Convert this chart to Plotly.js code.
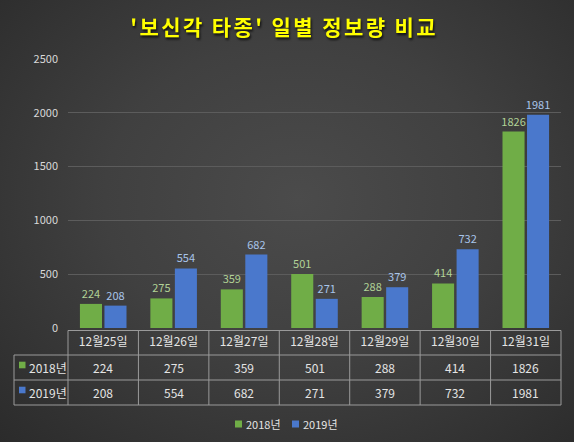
<!DOCTYPE html>
<html>
<head>
<meta charset="utf-8">
<script src="https://cdn.plot.ly/plotly-3.0.1.min.js"></script>
<style>
  html, body { margin: 0; padding: 0; }
  #chart {
    width: 574px; height: 442px;
    background: radial-gradient(ellipse 75% 80% at 52% 45%, #4b4b4b 0%, #404040 45%, #2a2a2a 100%);
  }
  .gtitle { filter: drop-shadow(1px 2px 1px rgba(0,0,0,0.75)); letter-spacing: 2.4px; }
</style>
</head>
<body>
<div id="chart"></div>
<script>
// ---- data ----
const categories = ['12월25일', '12월26일', '12월27일', '12월28일', '12월29일', '12월30일', '12월31일'];
const seriesNames = ['2018년', '2019년'];
const values2018 = [224, 275, 359, 501, 288, 414, 1826];
const values2019 = [208, 554, 682, 271, 379, 732, 1981];
const yTicks = [0, 500, 1000, 1500, 2000, 2500];
const titleText = "'보신각 타종' 일별 정보량 비교";

// ---- styling ----
const FONT = '"Noto Sans CJK KR", "Noto Sans", sans-serif';
const GREEN = '#70ad47';
const BLUE = '#4a78cc';
const GREEN_LABEL = '#b1d296';
const BLUE_LABEL = '#a9c5ea';
const LINE = '#9a9a9a';
const TEXT = '#e4e4e4';

const W = 574, H = 442;
const M = {l: 68, r: 13, t: 59, b: 114};
const plotH = H - M.t - M.b;      // 269
const plotW = W - M.l - M.r;      // 493
const py = p => (H - M.b - p) / plotH;   // pixel y -> paper y
const px = p => (p - M.l) / plotW;       // pixel x -> paper x

const traces = [
  {
    type: 'bar', name: seriesNames[0], x: categories, y: values2018,
    marker: {color: GREEN},
    texttemplate: '%{y}', textposition: 'outside', cliponaxis: false,
    constraintext: 'none',
    textfont: {family: FONT, size: 11, color: GREEN_LABEL},
    hoverinfo: 'x+y'
  },
  {
    type: 'bar', name: seriesNames[1], x: categories, y: values2019,
    marker: {color: BLUE},
    texttemplate: '%{y}', textposition: 'outside', cliponaxis: false,
    constraintext: 'none',
    textfont: {family: FONT, size: 11, color: BLUE_LABEL},
    hoverinfo: 'x+y'
  }
];

// table geometry (pixel rows)
const rowTop = 330.5, row1 = 355, row2 = 380, row3 = 405;
const leftEdge = 14;

const shapes = [];
const lineStyle = {color: LINE, width: 1};
// horizontal lines
shapes.push({type: 'line', xref: 'paper', yref: 'paper', x0: 0, x1: 1, y0: py(rowTop), y1: py(rowTop), line: lineStyle});
[row1, row2, row3].forEach(r => {
  shapes.push({type: 'line', xref: 'paper', yref: 'paper', x0: px(leftEdge), x1: 1, y0: py(r), y1: py(r), line: lineStyle});
});
// vertical lines
shapes.push({type: 'line', xref: 'paper', yref: 'paper', x0: px(leftEdge), x1: px(leftEdge), y0: py(row1), y1: py(row3), line: lineStyle});
shapes.push({type: 'line', xref: 'paper', yref: 'paper', x0: 0, x1: 0, y0: py(rowTop), y1: py(row3), line: lineStyle});
for (let i = 1; i < categories.length; i++) {
  shapes.push({type: 'line', xref: 'x', yref: 'paper', x0: i - 0.5, x1: i - 0.5, y0: py(rowTop), y1: py(row3), line: lineStyle});
}
shapes.push({type: 'line', xref: 'paper', yref: 'paper', x0: 1, x1: 1, y0: py(rowTop), y1: py(row3), line: lineStyle});

// legend keys inside table
const keyColors = [GREEN, BLUE];
const rowCenters = [(row1 + row2) / 2, (row2 + row3) / 2];
keyColors.forEach((c, k) => {
  const cy = rowCenters[k] - 2.5;
  shapes.push({type: 'rect', xref: 'paper', yref: 'paper',
    x0: px(19), x1: px(25.5), y0: py(cy - 3.3), y1: py(cy + 3.3),
    fillcolor: c, line: {width: 0}});
});

// bottom legend keys
const legendY = 424;
const legendItems = [{c: GREEN, x: 235, tx: 244}, {c: BLUE, x: 292, tx: 301}];
legendItems.forEach(it => {
  shapes.push({type: 'rect', xref: 'paper', yref: 'paper',
    x0: px(it.x), x1: px(it.x + 7), y0: py(legendY - 3.5), y1: py(legendY + 3.5),
    fillcolor: it.c, line: {width: 0}});
});

const annotations = [];
// table value cells
[values2018, values2019].forEach((vals, k) => {
  vals.forEach((v, i) => {
    annotations.push({xref: 'x', yref: 'paper', x: categories[i], y: py(rowCenters[k]),
      text: String(v), showarrow: false, xanchor: 'center', yanchor: 'middle',
      font: {family: FONT, size: 12, color: TEXT}});
  });
  annotations.push({xref: 'paper', yref: 'paper', x: px(27), y: py(rowCenters[k]),
    text: seriesNames[k], showarrow: false, xanchor: 'left', yanchor: 'middle',
    font: {family: FONT, size: 12, color: TEXT}});
});
// bottom legend text
legendItems.forEach((it, k) => {
  annotations.push({xref: 'paper', yref: 'paper', x: px(it.tx), y: py(legendY),
    text: seriesNames[k], showarrow: false, xanchor: 'left', yanchor: 'middle',
    font: {family: FONT, size: 11, color: TEXT}});
});

const layout = {
  width: W, height: H,
  margin: M,
  paper_bgcolor: 'rgba(0,0,0,0)',
  plot_bgcolor: 'rgba(0,0,0,0)',
  font: {family: FONT, color: TEXT},
  title: {
    text: '<b>' + titleText + '</b>',
    font: {family: FONT, size: 21, color: '#ffff00'},
    x: 0.495, xanchor: 'center', y: 0.938, yanchor: 'middle'
  },
  barmode: 'group',
  bargap: 0.304,
  bargroupgap: 0.1,
  showlegend: false,
  xaxis: {
    type: 'category',
    range: [-0.5, categories.length - 0.5],
    showgrid: false, zeroline: false, showline: false,
    ticks: '',
    ticklabelstandoff: 5,
    tickfont: {family: FONT, size: 12, color: TEXT},
    fixedrange: true
  },
  yaxis: {
    range: [0, 2500],
    tickvals: yTicks,
    ticktext: yTicks.map(String),
    showgrid: true, gridcolor: '#5c5c5c', gridwidth: 1,
    zeroline: false, showline: false,
    ticks: '',
    ticklabelstandoff: 9,
    tickfont: {family: FONT, size: 11, color: '#d9d9d9'},
    fixedrange: true
  },
  shapes: shapes,
  annotations: annotations
};

Plotly.newPlot('chart', traces, layout, {displayModeBar: false, staticPlot: true});
</script>
</body>
</html>
